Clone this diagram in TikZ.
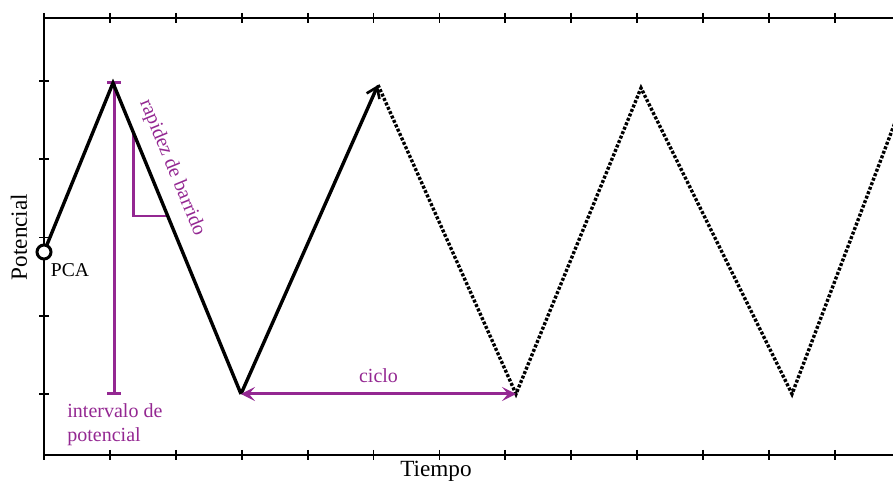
\documentclass[tikz,border=0pt]{standalone}
\usepackage{fontspec}
\setmainfont{Liberation Serif}
\usetikzlibrary{arrows.meta}
\definecolor{purp}{RGB}{148,40,146}
\begin{document}
\begin{tikzpicture}[x=0.5pt,y=-0.5pt,
  axis/.style={line width=1pt},
  tick/.style={line width=0.9pt},
  wave/.style={line width=1.7pt, line join=miter},
  dotwave/.style={line width=1.7pt, dash pattern=on 1.5pt off 0.9pt},
  purpline/.style={purp, line width=1.5pt},
  lbl/.style={font=\fontsize{10}{12}\selectfont, inner sep=0pt},
  axlbl/.style={font=\fontsize{11.6}{14}\selectfont, inner sep=0pt}]
\useasboundingbox (0,0) rectangle (893,485);
\begin{scope}
\clip (0,0) rectangle (893,485);
% frame
\coordinate (tl) at (44,18);
\coordinate (bl) at (44,455);
\coordinate (tr) at (900,18);
\coordinate (br) at (900,455);
\draw[axis] (tr) -- (tl) -- (bl) -- (br);
% x ticks
\foreach \i in {0,...,12} {
  \draw[tick] ({44+65.9*\i},13) -- ({44+65.9*\i},23);
  \draw[tick] ({44+65.9*\i},450) -- ({44+65.9*\i},460);
}
% y ticks
\foreach \j in {0,...,4} {
  \draw[tick] (39,{81+78.25*\j}) -- (49,{81+78.25*\j});
}
% waveform points
\coordinate (p0) at (44,252);
\coordinate (p1) at (113,83);
\coordinate (p2) at (241,394);
\coordinate (p3) at (378,85);
\coordinate (p4) at (516,394);
\coordinate (p5) at (641,88);
\coordinate (p6) at (792,394);
\coordinate (p7) at (910,83);
% intervalo de potencial
\coordinate (it) at (114,83);
\coordinate (ib) at (114,394);
\draw[purpline] (it) -- (ib);
\draw[purpline] (107,83) -- (121,83);
\draw[purpline] (107,394) -- (121,394);
\node[lbl, purp, align=left, anchor=north west] (ilab) at (67,403) {intervalo de\\potencial};
% slope triangle
\coordinate (s1) at (133.5,132);
\coordinate (s2) at (133.5,216);
\coordinate (s3) at (168,216);
\draw[purpline, line width=1.3pt] (s1) -- (s2) -- (s3);
\node[lbl, purp, rotate=-67.6] (rb) at (172,168) {rapidez de barrido};
% solid waveform
\draw[wave] (p0) -- (p1) -- (p2);
\draw[wave, -{Straight Barb[length=5pt, width=7pt, line width=1.3pt]}] (p2) -- (p3);
\draw[dotwave] (p3) -- (p4) -- (p5) -- (p6) -- (p7);
% ciclo arrow
\draw[purpline, {Stealth[length=7pt, width=7pt, inset=3pt]}-{Stealth[length=7pt, width=7pt, inset=3pt]}] (p2) -- (p4) node[midway, above=5pt, lbl, purp] (cic) {ciclo};
% PCA
\node[circle, draw, line width=1.5pt, fill=white, minimum size=7pt, inner sep=0pt] (pca) at (p0) {};
\node[lbl, font=\fontsize{9.8}{12}\selectfont] (pcalab) at (70,270) {PCA};
% axis labels
\node[axlbl] (tiempo) at (436,471) {Tiempo};
\node[axlbl, rotate=90] (pot) at (19,237) {Potencial};
\end{scope}
\end{tikzpicture}
\end{document}
